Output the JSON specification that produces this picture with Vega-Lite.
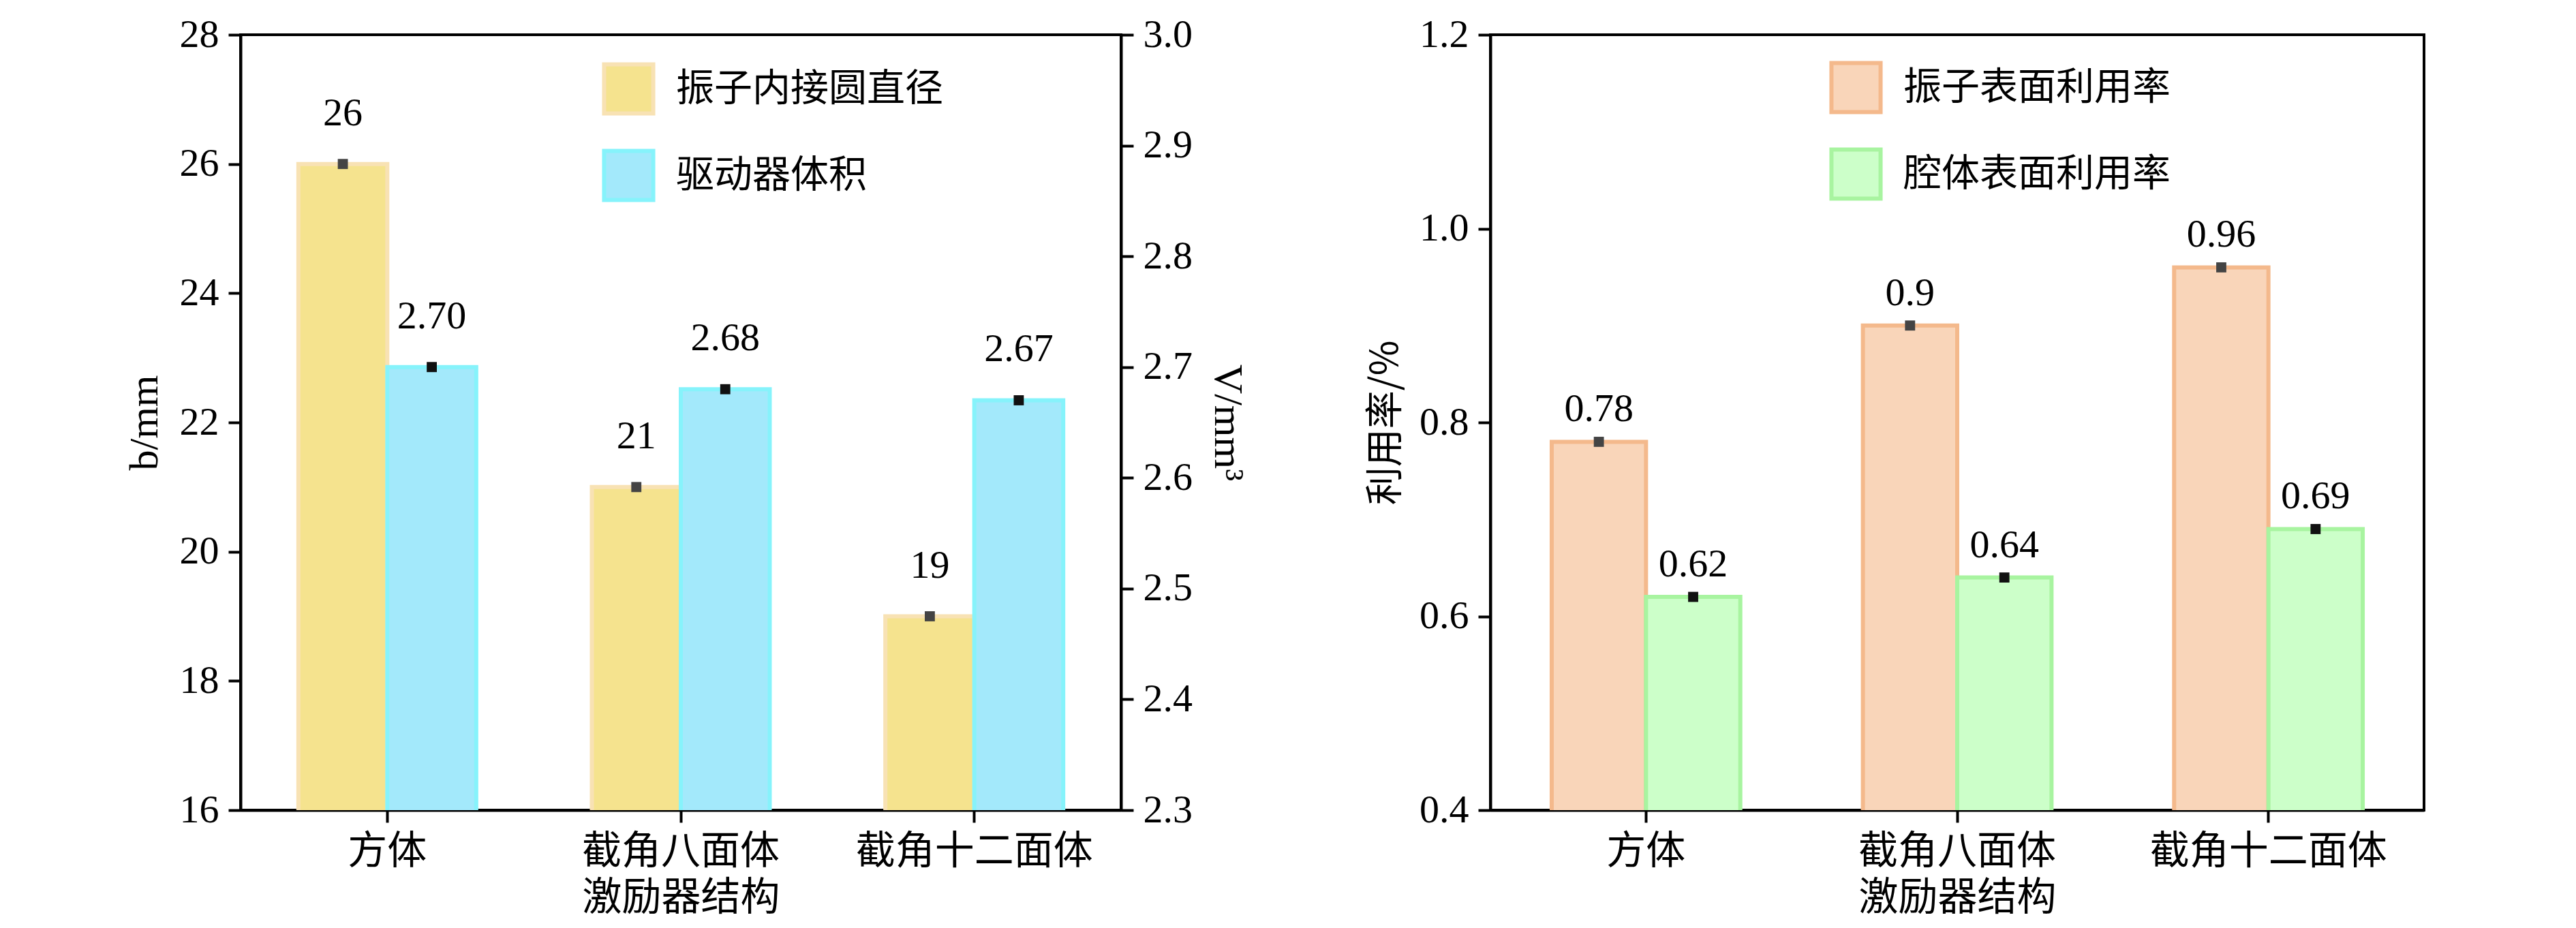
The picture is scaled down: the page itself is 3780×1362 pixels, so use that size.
{
  "$schema": "https://vega.github.io/schema/vega-lite/v6.json",
  "background": "white",
  "padding": {"left": 180, "top": 20, "right": 10, "bottom": 5},
  "spacing": 170,
  "resolve": {"scale": {"fill": "independent", "stroke": "independent", "color": "independent", "xOffset": "independent", "x": "independent", "y": "independent"}},
  "config": {
    "font": "Liberation Serif",
    "view": {"stroke": "black", "strokeWidth": 4},
    "axis": {"labelFont": "Liberation Serif", "titleFont": "Liberation Serif", "labelFontSize": 58, "titleFontSize": 60, "titleFontWeight": "normal", "labelColor": "black", "titleColor": "black", "domainColor": "black", "domainWidth": 4, "tickColor": "black", "tickWidth": 4, "tickSize": 18, "grid": false, "labelPadding": 14, "labelLimit": 0},
    "legend": {"labelFont": "Noto Sans CJK SC", "labelFontSize": 56, "labelColor": "black", "labelLimit": 0, "symbolType": "square", "symbolSize": 5200, "symbolStrokeWidth": 6, "rowPadding": 30, "labelOffset": 30}
  },
  "datasets": {
    "left": [
      {"s": "方体", "series": "振子内接圆直径", "v": 26},
      {"s": "截角八面体", "series": "振子内接圆直径", "v": 21},
      {"s": "截角十二面体", "series": "振子内接圆直径", "v": 19},
      {"s": "方体", "series": "驱动器体积", "v": 2.70},
      {"s": "截角八面体", "series": "驱动器体积", "v": 2.68},
      {"s": "截角十二面体", "series": "驱动器体积", "v": 2.67}
    ],
    "right": [
      {"s": "方体", "series": "振子表面利用率", "v": 0.78},
      {"s": "截角八面体", "series": "振子表面利用率", "v": 0.9},
      {"s": "截角十二面体", "series": "振子表面利用率", "v": 0.96},
      {"s": "方体", "series": "腔体表面利用率", "v": 0.62},
      {"s": "截角八面体", "series": "腔体表面利用率", "v": 0.64},
      {"s": "截角十二面体", "series": "腔体表面利用率", "v": 0.69}
    ]
  },
  "hconcat": [
    {
      "width": 1292,
      "height": 1138,
      "data": {"name": "left"},
      "encoding": {
        "x": {"field": "s", "type": "nominal", "sort": null, "title": ["激励器结构"], "scale": {"paddingInner": 0, "paddingOuter": 0}, "axis": {"labelAngle": 0, "labelFont": "Noto Sans CJK SC", "titleFont": "Noto Sans CJK SC", "labelFontSize": 58, "titleFontSize": 58, "titlePadding": 10}},
        "xOffset": {"field": "series", "type": "nominal", "scale": {"domain": ["振子内接圆直径", "驱动器体积"], "paddingOuter": 0.65, "paddingInner": 0}}
      },
      "layer": [
        {
          "transform": [{"filter": "datum.series == '振子内接圆直径'"}],
          "layer": [
            {
              "mark": {"type": "bar", "strokeWidth": 6, "clip": true},
              "encoding": {
                "y": {"field": "v", "type": "quantitative", "title": "b/mm", "scale": {"domain": [16, 28], "zero": false}, "axis": {"values": [16, 18, 20, 22, 24, 26, 28], "format": "d", "titlePadding": 20}},
                "fill": {"field": "series", "type": "nominal", "scale": {"domain": ["振子内接圆直径", "驱动器体积"], "range": ["#f5e38e", "#a3e9fb"]}, "legend": {"title": null, "orient": "none", "legendX": 530, "legendY": 40}},
                "stroke": {"field": "series", "type": "nominal", "scale": {"domain": ["振子内接圆直径", "驱动器体积"], "range": ["#f8e2b4", "#86f3fb"]}, "legend": null}
              }
            },
            {
              "mark": {"type": "point", "shape": "square", "filled": true, "color": "#444444", "size": 220, "opacity": 1},
              "encoding": {"y": {"field": "v", "type": "quantitative"}}
            },
            {
              "mark": {"type": "text", "fontSize": 58, "font": "Liberation Serif", "baseline": "bottom", "dy": -45, "color": "black"},
              "encoding": {"y": {"field": "v", "type": "quantitative"}, "text": {"field": "v", "type": "quantitative", "format": "d"}}
            }
          ]
        },
        {
          "transform": [{"filter": "datum.series == '驱动器体积'"}],
          "layer": [
            {
              "mark": {"type": "bar", "strokeWidth": 6, "clip": true},
              "encoding": {
                "y": {"field": "v", "type": "quantitative", "title": "V/mm³", "scale": {"domain": [2.3, 3.0], "zero": false}, "axis": {"orient": "right", "format": ".1f", "values": [2.3, 2.4, 2.5, 2.6, 2.7, 2.8, 2.9, 3.0], "titleAngle": 90, "titlePadding": 20}},
                "fill": {"field": "series", "type": "nominal", "scale": {"domain": ["振子内接圆直径", "驱动器体积"], "range": ["#f5e38e", "#a3e9fb"]}},
                "stroke": {"field": "series", "type": "nominal", "scale": {"domain": ["振子内接圆直径", "驱动器体积"], "range": ["#f8e2b4", "#86f3fb"]}, "legend": null}
              }
            },
            {
              "mark": {"type": "point", "shape": "square", "filled": true, "color": "#111111", "size": 220, "opacity": 1},
              "encoding": {"y": {"field": "v", "type": "quantitative"}}
            },
            {
              "mark": {"type": "text", "fontSize": 58, "font": "Liberation Serif", "baseline": "bottom", "dy": -45, "color": "black"},
              "encoding": {"y": {"field": "v", "type": "quantitative"}, "text": {"field": "v", "type": "quantitative", "format": ".2f"}}
            }
          ]
        }
      ],
      "resolve": {"scale": {"y": "independent"}}
    },
    {
      "width": 1370,
      "height": 1138,
      "data": {"name": "right"},
      "encoding": {
        "x": {"field": "s", "type": "nominal", "sort": null, "title": ["激励器结构"], "scale": {"paddingInner": 0, "paddingOuter": 0}, "axis": {"labelAngle": 0, "labelFont": "Noto Sans CJK SC", "titleFont": "Noto Sans CJK SC", "labelFontSize": 58, "titleFontSize": 58, "titlePadding": 10}},
        "xOffset": {"field": "series", "type": "nominal", "scale": {"domain": ["振子表面利用率", "腔体表面利用率"], "paddingOuter": 0.65, "paddingInner": 0}},
        "y": {"field": "v", "type": "quantitative", "title": "利用率/%", "scale": {"domain": [0.4, 1.2], "zero": false}, "axis": {"format": ".1f", "values": [0.4, 0.6, 0.8, 1.0, 1.2], "titleFont": "Noto Sans CJK SC", "titleFontSize": 56, "titlePadding": 20}}
      },
      "layer": [
        {
          "mark": {"type": "bar", "strokeWidth": 6, "clip": true},
          "encoding": {
            "fill": {"field": "series", "type": "nominal", "scale": {"domain": ["振子表面利用率", "腔体表面利用率"], "range": ["#f9d5b9", "#ccffc9"]}, "legend": {"title": null, "orient": "none", "legendX": 497, "legendY": 38}},
            "stroke": {"field": "series", "type": "nominal", "scale": {"domain": ["振子表面利用率", "腔体表面利用率"], "range": ["#f4b98c", "#a8f4a0"]}, "legend": null}
          }
        },
        {
          "mark": {"type": "point", "shape": "square", "filled": true, "size": 220, "opacity": 1},
          "encoding": {"color": {"field": "series", "type": "nominal", "scale": {"domain": ["振子表面利用率", "腔体表面利用率"], "range": ["#444444", "#111111"]}, "legend": null}}
        },
        {
          "mark": {"type": "text", "fontSize": 58, "font": "Liberation Serif", "baseline": "bottom", "dy": -18, "color": "black"},
          "encoding": {"text": {"field": "v", "type": "quantitative"}}
        }
      ],
      "resolve": {"scale": {"color": "independent"}}
    }
  ]
}
